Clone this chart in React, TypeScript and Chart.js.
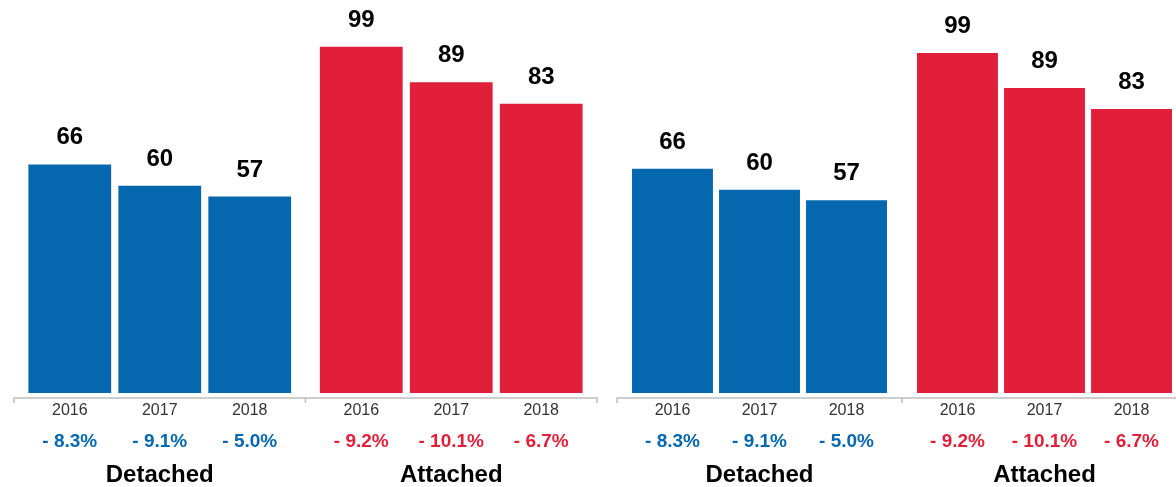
import React, { useEffect, useRef } from "react";
import { Chart, registerables } from "chart.js";

Chart.register(...registerables);

const groups = ["Detached", "Attached"];
const years = ["2016", "2017", "2018"];
const values2016 = [66, 99];
const values2017 = [60, 89];
const values2018 = [57, 83];
const changes2016 = ["- 8.3%", "- 9.2%"];
const changes2017 = ["- 9.1%", "- 10.1%"];
const changes2018 = ["- 5.0%", "- 6.7%"];
const groupColors = ["#0567ae", "#e11f3a"];

const yearValues = [values2016, values2017, values2018];
const yearChanges = [changes2016, changes2017, changes2018];

const FONT = "'Liberation Sans', Arial, Helvetica, sans-serif";

type PanelCfg = {
  left: number;
  width: number;
  padLeft: number;
  padRight: number;
  padTop: number;
  catPct: number;
  barPct: number;
};

const AXIS_GAP = 5;

const labelsPlugin = {
  id: "barLabels",
  afterDraw(chart: any) {
    const ctx = chart.ctx;
    const xScale = chart.scales.x;
    const axisY = chart.chartArea.bottom + AXIS_GAP;
    const n = chart.data.labels.length;
    ctx.save();
    // axis line with bracket ticks at category boundaries
    ctx.strokeStyle = "#bdbdbd";
    ctx.lineWidth = 1.5;
    ctx.beginPath();
    ctx.moveTo(xScale.left, axisY);
    ctx.lineTo(xScale.right, axisY);
    for (let i = 0; i <= n; i++) {
      const bx = xScale.left + (i * (xScale.right - xScale.left)) / n;
      ctx.moveTo(bx, axisY - 0.75);
      ctx.lineTo(bx, axisY + 5);
    }
    ctx.stroke();

    ctx.textAlign = "center";
    ctx.textBaseline = "alphabetic";
    chart.data.datasets.forEach((ds: any, di: number) => {
      const meta = chart.getDatasetMeta(di);
      meta.data.forEach((el: any, j: number) => {
        const x = el.x;
        ctx.font = `bold 24px ${FONT}`;
        ctx.fillStyle = "#000";
        ctx.fillText(String(ds.data[j]), x, el.y - 20);
        ctx.font = `16px ${FONT}`;
        ctx.fillStyle = "#333";
        ctx.fillText(years[di], x, axisY + 16.5);
        ctx.font = `bold 19px ${FONT}`;
        ctx.fillStyle = groupColors[j];
        ctx.fillText(yearChanges[di][j], x, axisY + 48.5);
      });
    });
    chart.data.labels.forEach((g: string, j: number) => {
      ctx.font = `bold 24px ${FONT}`;
      ctx.fillStyle = "#000";
      ctx.fillText(g, xScale.getPixelForValue(j), axisY + 83.5);
    });
    ctx.restore();
  },
};

function Panel({ cfg }: { cfg: PanelCfg }) {
  const ref = useRef<HTMLCanvasElement>(null);
  useEffect(() => {
    if (!ref.current) return;
    const chart = new Chart(ref.current, {
      type: "bar",
      data: {
        labels: groups,
        datasets: years.map((y, i) => ({
          label: y,
          data: yearValues[i],
          backgroundColor: groupColors,
          borderWidth: 0,
          categoryPercentage: cfg.catPct,
          barPercentage: cfg.barPct,
        })),
      },
      options: {
        responsive: false,
        animation: false,
        devicePixelRatio: 1,
        layout: {
          padding: { left: cfg.padLeft, right: cfg.padRight, top: cfg.padTop, bottom: 0 },
        },
        plugins: {
          legend: { display: false },
          tooltip: { enabled: false },
        },
        scales: {
          x: {
            afterFit: (scale: any) => {
              scale.height = 94;
            },
            grid: { display: false, offset: true },
            border: { display: false },
            ticks: { display: false },
          },
          y: {
            display: false,
            min: 2,
            max: Math.max(...values2016, ...values2017, ...values2018),
          },
        },
      },
      plugins: [labelsPlugin],
    } as any);
    return () => chart.destroy();
  }, [cfg]);
  return (
    <canvas
      ref={ref}
      width={cfg.width}
      height={487}
      style={{ position: "absolute", left: cfg.left, top: 0, width: cfg.width, height: 487 }}
    />
  );
}

const leftCfg: PanelCfg = { left: 0, width: 607, padLeft: 14, padRight: 10, padTop: 46.5, catPct: 0.926, barPct: 0.92 };
const rightCfg: PanelCfg = { left: 607, width: 590, padLeft: 10, padRight: 10, padTop: 53, catPct: 0.916, barPct: 0.93 };

export default function App() {
  useEffect(() => {
    document.body.style.margin = "0";
  }, []);
  return (
    <div
      style={{
        position: "fixed",
        left: 0,
        top: 0,
        width: 1176,
        height: 487,
        overflow: "hidden",
        background: "#fff",
      }}
    >
      <Panel cfg={leftCfg} />
      <Panel cfg={rightCfg} />
    </div>
  );
}
